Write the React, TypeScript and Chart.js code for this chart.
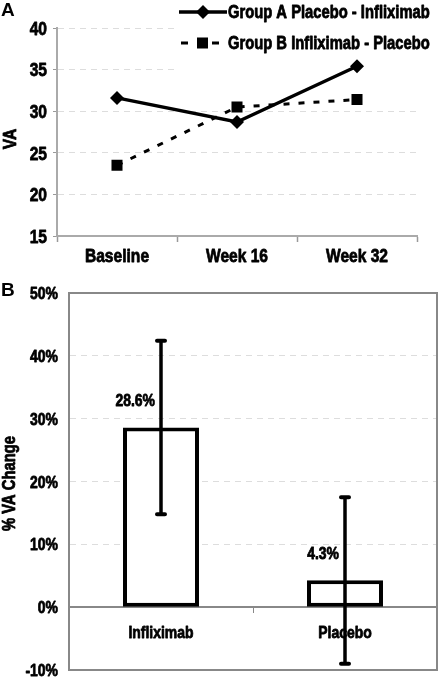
import React, { useEffect, useRef } from "react";
import { Chart, registerables } from "chart.js";

Chart.register(...registerables);

const WIDE = "'Liberation Sans', Arial, sans-serif";
const SQUEEZE = 0.82; // the reference uses a condensed bold face

// ---- Panel A data ----
const timepoints = ["Baseline", "Week 16", "Week 32"];
const groupALabel = "Group A Placebo - Infliximab";
const groupBLabel = "Group B Infliximab - Placebo";
const groupAVA = [31.6, 28.7, 35.4];
const groupBVA = [23.5, 30.5, 31.4];
const vaMin = 15;
const vaMax = 40;
const vaStep = 5;
const vaTitle = "VA";

// ---- Panel B data ----
const treatments = ["Infliximab", "Placebo"];
const pctChange = [28.6, 4.3];
const errUpper = [42.4, 17.5];
const errLower = [14.8, -9.0];
const pctMin = -10;
const pctMax = 50;
const pctStep = 10;
const pctTitle = "% VA Change";

function drawNarrow(
  ctx: CanvasRenderingContext2D,
  text: string,
  x: number,
  y: number,
  size: number,
  align: CanvasTextAlign,
  angle = 0
) {
  ctx.save();
  ctx.translate(x, y);
  if (angle) ctx.rotate(angle);
  ctx.scale(SQUEEZE, 1);
  ctx.font = `bold ${size}px ${WIDE}`;
  ctx.fillStyle = "#000";
  ctx.strokeStyle = "#000";
  ctx.lineWidth = 0.8;
  ctx.lineJoin = "round";
  ctx.textAlign = align;
  ctx.textBaseline = "alphabetic";
  ctx.fillText(text, 0, 0);
  ctx.strokeText(text, 0, 0);
  ctx.restore();
}

function drawAxisLabels(
  chart: any,
  size: number,
  yGap: number,
  xBaseline: number,
  yFormat: (v: number) => string,
  title: string,
  titleSize: number,
  titleY: number
) {
  const ctx = chart.ctx;
  const xs = chart.scales.x;
  const ys = chart.scales.y;
  const cap = size * 0.716;
  ys.ticks.forEach((t: any, i: number) => {
    const y = ys.getPixelForTick(i);
    drawNarrow(ctx, yFormat(t.value), chart.chartArea.left - yGap, y + cap / 2, size, "right");
  });
  xs.ticks.forEach((t: any, i: number) => {
    const x = xs.getPixelForTick(i);
    drawNarrow(ctx, xs.getLabelForValue(t.value), x, xBaseline, size, "center");
  });
  const tcap = titleSize * 0.716;
  drawNarrow(ctx, title, 9 + tcap / 2, titleY, titleSize, "center", -Math.PI / 2);
}

const legendPlugin = {
  id: "boxLegend",
  beforeDatasetsDraw(chart: any) {
    const ctx = chart.ctx;
    ctx.save();
    ctx.fillStyle = "#ffffff";
    ctx.fillRect(177, 0, chart.width - 177, 76);
    ctx.restore();
  },
  afterDraw(chart: any) {
    const ctx = chart.ctx;
    const ds = chart.data.datasets;
    const xs = chart.scales.x;
    drawAxisLabels(chart, 19, 10, xs.top + 26, (v) => String(v), vaTitle, 19, 139);
    ctx.save();
    ctx.fillStyle = "#000";
    ctx.strokeStyle = "#000";
    // item 1: solid line + diamond
    const y1 = 12;
    ctx.lineWidth = 3.5;
    ctx.beginPath();
    ctx.moveTo(179, y1);
    ctx.lineTo(227, y1);
    ctx.stroke();
    ctx.beginPath();
    ctx.moveTo(203 - 7, y1);
    ctx.lineTo(203, y1 - 7);
    ctx.lineTo(203 + 7, y1);
    ctx.lineTo(203, y1 + 7);
    ctx.closePath();
    ctx.fill();
    // item 2: dashed + square
    const y2 = 43;
    ctx.lineWidth = 3;
    ctx.beginPath();
    ctx.moveTo(181, y2);
    ctx.lineTo(188, y2);
    ctx.moveTo(212, y2);
    ctx.lineTo(219, y2);
    ctx.stroke();
    ctx.fillRect(197, y2 - 5.5, 11, 11);
    ctx.restore();
    const lcap = 18 * 0.716;
    drawNarrow(ctx, ds[0].label, 228, y1 + lcap / 2, 18, "left");
    drawNarrow(ctx, ds[1].label, 228, y2 + lcap / 2, 18, "left");
  },
};

const boxErrPlugin = {
  id: "boxErr",
  beforeDatasetsDraw(chart: any) {
    const { ctx, chartArea } = chart;
    ctx.save();
    ctx.strokeStyle = "#888";
    ctx.lineWidth = 2;
    ctx.strokeRect(chartArea.left, chartArea.top, chartArea.right - chartArea.left, chartArea.bottom - chartArea.top);
    ctx.restore();
  },
  afterDraw(chart: any) {
    const ctx = chart.ctx;
    const ys = chart.scales.y;
    const zero = ys.getPixelForValue(0);
    drawAxisLabels(chart, 17, 11, zero + 31, (v) => `${v}%`, pctTitle, 18, (chart.chartArea.top + chart.chartArea.bottom) / 2 + 2);
    const meta = chart.getDatasetMeta(0);
    ctx.save();
    meta.data.forEach((bar: any, i: number) => {
      const x = bar.x;
      const yt = ys.getPixelForValue(errUpper[i]);
      const yb = ys.getPixelForValue(errLower[i]);
      ctx.strokeStyle = "#000";
      ctx.lineWidth = 3.5;
      ctx.lineCap = "butt";
      ctx.beginPath();
      ctx.moveTo(x, yt);
      ctx.lineTo(x, yb);
      ctx.stroke();
      ctx.lineCap = "round";
      ctx.lineWidth = 4;
      ctx.beginPath();
      ctx.moveTo(x - 4, yt);
      ctx.lineTo(x + 4, yt);
      ctx.moveTo(x - 4, yb);
      ctx.lineTo(x + 4, yb);
      ctx.stroke();
      const top = ys.getPixelForValue(pctChange[i]);
      drawNarrow(ctx, `${pctChange[i]}%`, x - 6, top - 21, 17, "right");
    });
    ctx.restore();
  },
};

export default function App() {
  const topRef = useRef<HTMLCanvasElement>(null);
  const botRef = useRef<HTMLCanvasElement>(null);

  useEffect(() => {
    const top = new Chart(topRef.current as HTMLCanvasElement, {
      type: "line",
      data: {
        labels: timepoints,
        datasets: [
          {
            label: groupALabel,
            data: groupAVA,
            borderColor: "#000",
            backgroundColor: "#000",
            borderWidth: 3.5,
            pointStyle: "rectRot",
            pointRadius: 7,
            pointBackgroundColor: "#000",
            pointBorderColor: "#000",
            pointBorderWidth: 0,
            fill: false,
            tension: 0,
          },
          {
            label: groupBLabel,
            data: groupBVA,
            borderColor: "#000",
            backgroundColor: "#000",
            borderWidth: 3,
            borderDash: [6, 9],
            pointStyle: "rect",
            pointRadius: 7.8,
            pointBackgroundColor: "#000",
            pointBorderColor: "#000",
            pointBorderWidth: 0,
            fill: false,
            tension: 0,
          },
        ],
      },
      options: {
        responsive: false,
        animation: false,
        devicePixelRatio: 1,
        layout: { padding: { top: 28, right: 23, left: 0, bottom: 0 } },
        plugins: { legend: { display: false }, tooltip: { enabled: false } },
        scales: {
          x: {
            type: "category",
            offset: true,
            grid: {
              offset: true,
              drawOnChartArea: false,
              drawTicks: true,
              tickLength: 6,
              tickColor: "#999",
              tickWidth: 1.5,
            },
            border: { color: "#aaa", width: 2 },
            ticks: { display: false },
            afterFit: (s: any) => {
              s.height = 40;
            },
          },
          y: {
            min: vaMin,
            max: vaMax,
            ticks: { stepSize: vaStep, display: false },
            grid: { color: "#dddddd", lineWidth: 1, drawTicks: true, tickLength: 4, tickColor: "#999", tickBorderDash: [] },
            border: { color: "#aaa", width: 2, dash: [6, 5] },
            title: { display: false },
            afterFit: (s: any) => {
              s.width = 57;
            },
          },
        },
      },
      plugins: [legendPlugin],
    } as any);

    const bot = new Chart(botRef.current as HTMLCanvasElement, {
      type: "bar",
      data: {
        labels: treatments,
        datasets: [
          {
            label: pctTitle,
            data: pctChange,
            backgroundColor: "#fff",
            borderColor: "#000",
            borderWidth: 4,
            borderSkipped: false,
            categoryPercentage: 1,
            barPercentage: 0.413,
          },
        ],
      },
      options: {
        responsive: false,
        animation: false,
        devicePixelRatio: 1,
        layout: { padding: { top: 13, right: 3, left: 0, bottom: 7 } },
        plugins: { legend: { display: false }, tooltip: { enabled: false } },
        scales: {
          x: {
            type: "category",
            position: { y: 0 },
            offset: true,
            grid: {
              offset: true,
              drawOnChartArea: false,
              drawTicks: true,
              tickLength: 5,
              tickColor: "#888",
              tickWidth: 1,
            },
            border: { color: "#888", width: 2 },
            ticks: { display: false },
          },
          y: {
            min: pctMin,
            max: pctMax,
            ticks: { stepSize: pctStep, display: false },
            grid: { color: "#dddddd", lineWidth: 1, drawTicks: false },
            border: { color: "#888", width: 2, dash: [6, 5] },
            title: { display: false },
            afterFit: (s: any) => {
              s.width = 69;
            },
          },
        },
      },
      plugins: [boxErrPlugin],
    } as any);

    return () => {
      top.destroy();
      bot.destroy();
    };
  }, []);

  const letter: React.CSSProperties = {
    position: "absolute",
    left: 1,
    fontFamily: WIDE,
    fontWeight: "bold",
    fontSize: 19,
    lineHeight: "19px",
    color: "#000",
  };

  return (
    <div style={{ position: "absolute", left: 0, top: 0, width: 440, height: 677, background: "#fff", overflow: "hidden" }}>
      <canvas ref={topRef} width={440} height={276} style={{ position: "absolute", left: 0, top: 0, width: 440, height: 276 }} />
      <canvas ref={botRef} width={440} height={397} style={{ position: "absolute", left: 0, top: 280, width: 440, height: 397 }} />
      <div style={{ ...letter, top: 0 }}>A</div>
      <div style={{ ...letter, top: 280 }}>B</div>
    </div>
  );
}
